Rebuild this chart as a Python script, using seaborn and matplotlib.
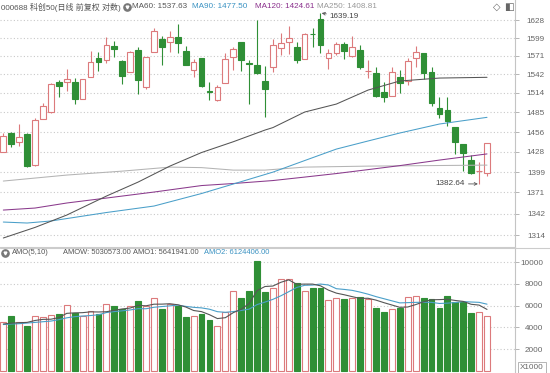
import matplotlib
matplotlib.use("Agg")
import matplotlib.pyplot as plt
from matplotlib.lines import Line2D
from matplotlib.ticker import FixedLocator, NullLocator, FixedFormatter
import numpy as np
import pandas as pd
import seaborn as sns

sns.set_style("white")
plt.rcParams['font.family'] = ['Liberation Sans', 'Noto Sans CJK SC', 'DejaVu Sans']

# ---------------- data ----------------
opens = [1427.7, 1454.1, 1442.1, 1453.1, 1408.4, 1475.4, 1485.3, 1530.4, 1530.0, 1530.9,
         1504.3, 1537.6, 1567.4, 1564.3, 1586.8, 1563.2, 1545.3, 1580.0, 1523.3, 1576.4,
         1597.5, 1592.7, 1601.2, 1578.4, 1548.3, 1567.4, 1516.3, 1503.2, 1528.4, 1569.5,
         1592.7, 1559.6, 1556.6, 1532.4, 1554.0, 1582.7, 1593.2, 1585.4, 1565.9, 1606.0,
         1629.1, 1567.0, 1574.8, 1589.5, 1571.1, 1580.0, 1546.8, 1544.6, 1515.2, 1509.2,
         1537.6, 1532.4, 1567.0, 1574.8, 1545.7, 1491.7, 1488.3, 1462.8, 1438.3, 1415.9,
         1400.0, 1397.2]
highs = [1455.0, 1455.6, 1467.2, 1454.6, 1476.0, 1498.3, 1528.9, 1533.5, 1550.8, 1537.0,
         1535.0, 1578.4, 1576.4, 1601.2, 1594.3, 1564.3, 1578.9, 1584.3, 1569.5, 1614.6,
         1602.3, 1610.2, 1621.0, 1585.9, 1565.4, 1567.9, 1530.0, 1525.9, 1574.8, 1584.3,
         1593.2, 1564.3, 1628.0, 1555.1, 1597.0, 1606.5, 1618.3, 1592.2, 1607.0, 1614.6,
         1639.19, 1581.1, 1592.2, 1592.2, 1602.8, 1588.0, 1564.3, 1554.0, 1530.0, 1554.0,
         1548.8, 1567.9, 1585.9, 1574.8, 1554.0, 1507.3, 1508.2, 1462.8, 1438.3, 1422.6,
         1413.4, 1439.8]
lows = [1427.3, 1434.0, 1436.3, 1406.5, 1407.5, 1475.4, 1483.4, 1507.3, 1517.2, 1497.2,
        1504.3, 1537.6, 1547.3, 1560.1, 1569.5, 1527.4, 1545.3, 1511.8, 1519.7, 1576.4,
        1556.6, 1577.3, 1574.8, 1556.6, 1537.6, 1523.3, 1503.2, 1502.2, 1528.4, 1548.8,
        1547.7, 1497.2, 1542.6, 1477.5, 1546.2, 1572.2, 1573.7, 1559.2, 1565.9, 1585.4,
        1575.7, 1549.9, 1572.2, 1565.4, 1569.5, 1550.8, 1536.1, 1507.3, 1500.7, 1509.2,
        1514.2, 1525.9, 1554.0, 1534.6, 1494.7, 1476.9, 1465.2, 1424.4, 1400.8, 1396.3,
        1382.64, 1393.6]
closes = [1450.3, 1438.3, 1448.4, 1407.4, 1473.5, 1494.3, 1527.8, 1523.9, 1534.6, 1505.2,
          1535.0, 1561.7, 1561.7, 1588.0, 1581.1, 1539.6, 1576.4, 1533.0, 1569.5, 1610.7,
          1584.3, 1601.2, 1591.6, 1556.6, 1560.7, 1524.3, 1515.2, 1522.3, 1565.4, 1581.1,
          1564.3, 1558.7, 1544.6, 1519.3, 1588.0, 1590.7, 1599.6, 1564.3, 1605.4, 1605.0,
          1588.0, 1574.8, 1589.5, 1578.9, 1585.4, 1553.0, 1547.7, 1509.2, 1508.2, 1545.3,
          1528.4, 1563.2, 1577.3, 1543.7, 1498.3, 1481.9, 1472.0, 1441.2, 1426.3, 1398.1,
          1400.8, 1439.8]

# turnover (axis units, x1000)
volumes = [4450, 5050, 4500, 4080, 5050, 4960, 5120, 5240, 6040, 5270,
           5050, 5490, 5180, 6160, 5920, 5670, 5920, 6400, 5970, 6650,
           5700, 6100, 5920, 4960, 5030, 5180, 4690, 4140, 5370, 7350,
           6710, 7350, 10070, 7260, 7570, 8420, 8480, 8030, 7350, 7570,
           7630, 6500, 6650, 6590, 6710, 6800, 6590, 5790, 5420, 5640,
           5730, 6740, 6890, 6710, 6590, 5790, 6890, 6340, 6280, 5270,
           5420, 5030.573]
amo1 = [4300, 4380, 4420, 4450, 4626, 4728, 4742, 4890, 5282, 5326,
        5344, 5418, 5406, 5430, 5560, 5684, 5770, 6014, 5976, 6122,
        6128, 6164, 6068, 5866, 5542, 5438, 5156, 4800, 4882, 5346,
        5652, 6184, 7370, 7748, 7792, 8134, 8360, 7952, 7970, 7970,
        7812, 7416, 7140, 6988, 6816, 6650, 6668, 6496, 6262, 6048,
        5834, 5864, 6084, 6342, 6532, 6544, 6574, 6464, 6378, 6114,
        6040, 5642]
amo2 = [4250, 4300, 4330, 4390, 4450, 4510, 4570, 4700, 4870, 4976,
        5036, 5080, 5148, 5356, 5443, 5514, 5594, 5710, 5703, 5841,
        5906, 5967, 6041, 5921, 5832, 5783, 5660, 5434, 5374, 5444,
        5545, 5670, 6085, 6315, 6569, 6893, 7272, 7661, 7859, 7881,
        7973, 7888, 7546, 7479, 7393, 7231, 7042, 6818, 6625, 6432,
        6242, 6266, 6290, 6302, 6290, 6189, 6219, 6274, 6360, 6323,
        6292, 6124]

ma60_idx = [0, 4, 8, 13, 17, 21, 25, 29, 33, 34, 38, 42, 46, 50, 55, 61]
ma60_val = [1310.1, 1324.0, 1340.4, 1366.0, 1385.2, 1407.4, 1426.6, 1442.0, 1458.9, 1462.5,
            1485.3, 1497.2, 1518.2, 1532.0, 1536.5, 1537.63]
ma90_idx = [0, 3, 6, 13, 19, 25, 29, 34, 38, 42, 46, 50, 55, 61]
ma90_val = [1331.1, 1329.8, 1332.5, 1343.8, 1352.5, 1369.5, 1382.5, 1399.0, 1415.2, 1431.5,
            1443.1, 1454.6, 1467.7, 1477.50]
ma120_idx = [0, 4, 8, 13, 19, 25, 29, 34, 38, 42, 46, 50, 55, 61]
ma120_val = [1347.1, 1349.8, 1356.6, 1363.3, 1371.5, 1380.4, 1383.2, 1387.3, 1392.1, 1397.0,
             1402.5, 1408.1, 1415.9, 1424.61]
ma250_idx = [0, 8, 15, 21, 25, 29, 33, 38, 46, 61]
ma250_val = [1386.6, 1394.9, 1400.4, 1406.0, 1405.3, 1401.8, 1401.8, 1406.0, 1407.4, 1408.81]

price_ticks = [1314, 1342, 1371, 1399, 1428, 1456, 1485, 1514, 1542, 1571, 1599, 1628]
vol_ticks = [2000, 4000, 6000, 8000, 10000]

header = "000688 科创50(日线 前复权 对数)"
ma_labels = ["MA60: 1537.63", "MA90: 1477.50", "MA120: 1424.61", "MA250: 1408.81"]
amo_labels = ["AMO(5,10)", "AMOW: 5030573.00", "AMO1: 5641941.00", "AMO2: 6124406.00"]

# ---------------- style ----------------
UP = '#dc7a7c'
DN = '#2f8f36'
C60, C90, C120, C250 = '#555555', '#4a9fc9', '#8a3a8c', '#b4b4b4'
GRID = '#c9c9c9'
TXT = '#555555'
FS = 5.9

W, H = 550, 373
fig = plt.figure(figsize=(W / 100, H / 100), dpi=100)
fig.patch.set_facecolor('white')


def fx(px):
    return px / W


def fy(py):
    return 1 - py / H


ax = fig.add_axes([0, fy(247), fx(515), 247 / H])
axv = fig.add_axes([0, 0, fx(515), fy(248)])

n = len(opens)
idx = np.arange(n)

# ---------------- candles ----------------
for i in range(n):
    o, h, l, c = opens[i], highs[i], lows[i], closes[i]
    up = c >= o
    col = UP if up else DN
    ax.vlines(i, l, h, color=col, lw=0.8, zorder=2)
    bot, top = min(o, c), max(o, c)
    ax.bar(i, max(top - bot, 0.3), bottom=bot, width=0.72,
           facecolor='white' if up else DN, edgecolor=col, lw=0.8, zorder=3)

# moving averages
for xi, yv, col in [(ma250_idx, ma250_val, C250), (ma120_idx, ma120_val, C120),
                    (ma90_idx, ma90_val, C90), (ma60_idx, ma60_val, C60)]:
    sns.lineplot(x=xi, y=yv, ax=ax, color=col, lw=0.75, zorder=4)

ax.set_yscale('log')
ax.set_ylim(1298.4, 1660.8)
ax.set_xlim(-0.42, 64.53)
ax.yaxis.tick_right()
ax.yaxis.set_major_locator(FixedLocator(price_ticks))
ax.yaxis.set_major_formatter(FixedFormatter([str(t) for t in price_ticks]))
ax.yaxis.set_minor_locator(NullLocator())
ax.tick_params(axis='y', which='major', length=3, width=0.6, color='#aaaaaa',
               pad=18.6, labelsize=FS, labelcolor='#666666', right=True, left=False)
for lab in ax.get_yticklabels():
    lab.set_ha('right')
ax.set_xticks([])
ax.set_xlabel('')
ax.set_ylabel('')
ax.grid(axis='y', linestyle=(0, (1, 2)), color=GRID, lw=0.8)
ax.grid(axis='x', visible=False)
for s in ['top', 'left']:
    ax.spines[s].set_visible(False)
ax.spines['right'].set_color('#c4c4c4')
ax.spines['bottom'].set_color('#cccccc')
ax.spines['right'].set_linewidth(0.8)
ax.spines['bottom'].set_linewidth(0.8)

# annotations
ax.annotate('1639.19', xy=(40.15, 1639.19), xytext=(41.15, 1633.4),
            ha='left', va='center', fontsize=FS, color='#444444',
            arrowprops=dict(arrowstyle='->', color='#555555', lw=0.6,
                            shrinkA=0, shrinkB=0, mutation_scale=5))
ax.annotate('1382.64', xy=(59.85, 1382.64), xytext=(58.25, 1382.64),
            ha='right', va='center', fontsize=FS, color='#444444',
            arrowprops=dict(arrowstyle='->', color='#555555', lw=0.6,
                            shrinkA=0, shrinkB=0, mutation_scale=5))

# ---------------- volume ----------------
vdf = pd.DataFrame({'i': idx, 'vol': volumes,
                    'dir': ['up' if closes[k] >= opens[k] else 'down' for k in range(n)]})
sns.barplot(data=vdf, x='i', y='vol', hue='dir', palette={'up': 'white', 'down': DN},
            native_scale=True, width=0.74, saturation=1, legend=False, ax=axv, zorder=2)
for p in axv.patches:
    fc = p.get_facecolor()
    if fc[0] > 0.9 and fc[1] > 0.9:
        p.set_edgecolor(UP)
        p.set_facecolor('white')
    else:
        p.set_edgecolor(DN)
    p.set_linewidth(0.8)

sns.lineplot(x=idx, y=amo2, ax=axv, color=C90, lw=0.8, zorder=4)
sns.lineplot(x=idx, y=amo1, ax=axv, color=C60, lw=0.8, zorder=5)

axv.set_xlim(-0.42, 64.53)
axv.set_ylim(-202, 11287)
axv.yaxis.tick_right()
axv.set_yticks(vol_ticks)
axv.set_yticklabels([str(t) for t in vol_ticks])
axv.tick_params(axis='y', length=3, width=0.6, color='#aaaaaa', pad=17.2,
                labelsize=FS, labelcolor='#666666', right=True, left=False)
for lab in axv.get_yticklabels():
    lab.set_ha('right')
axv.set_xticks([])
axv.set_xlabel('')
axv.set_ylabel('')
axv.grid(axis='y', linestyle=(0, (1, 2)), color=GRID, lw=0.8)
axv.grid(axis='x', visible=False)
for s in ['top', 'left', 'bottom']:
    axv.spines[s].set_visible(False)
axv.spines['right'].set_color('#c4c4c4')
axv.spines['right'].set_linewidth(0.8)

# ---------------- header texts ----------------
fig.add_artist(Line2D([0, 1], [fy(247.5), fy(247.5)], color='#cccccc', lw=0.8,
                      transform=fig.transFigure))

fig.text(fx(1), fy(7), header, fontsize=5.75, color=TXT, va='center', ha='left')
fig.add_artist(Line2D([fx(127)], [fy(7)], marker='o', markersize=5.2, color='#777777',
                      transform=fig.transFigure))
fig.add_artist(Line2D([fx(127)], [fy(7)], marker='v', markersize=2.0, color='white',
                      transform=fig.transFigure))
for xp, lab, col in zip([132, 192, 255, 317], ma_labels, [TXT, '#3a92c2', '#8a2f8c', '#999999']):
    fig.text(fx(xp), fy(7), lab, fontsize=FS, color=col, va='center', ha='left')
fig.text(fx(497), fy(7), '◇', fontsize=7, color='#666666', va='center', ha='center',
         family='DejaVu Sans')
fig.text(fx(509), fy(7), '◧', fontsize=7.5, color='#666666', va='center', ha='center',
         family='DejaVu Sans')

fig.add_artist(Line2D([fx(5)], [fy(252.5)], marker='o', markersize=5.2, color='#777777',
                      transform=fig.transFigure))
fig.add_artist(Line2D([fx(5)], [fy(252.5)], marker='v', markersize=2.0, color='white',
                      transform=fig.transFigure))
for xp, lab, col in zip([12, 63, 133, 204], amo_labels, [TXT, TXT, TXT, '#3a92c2']):
    fig.text(fx(xp), fy(252.5), lab, fontsize=5.4, color=col, va='center', ha='left')

fig.text(fx(532), fy(367.5), 'X1000', fontsize=FS, color='#666666', va='center', ha='center',
         bbox=dict(boxstyle='square,pad=0.2', facecolor='white', edgecolor='#aaaaaa', lw=0.6))

fig.savefig('out.png', dpi=100, facecolor='white')
